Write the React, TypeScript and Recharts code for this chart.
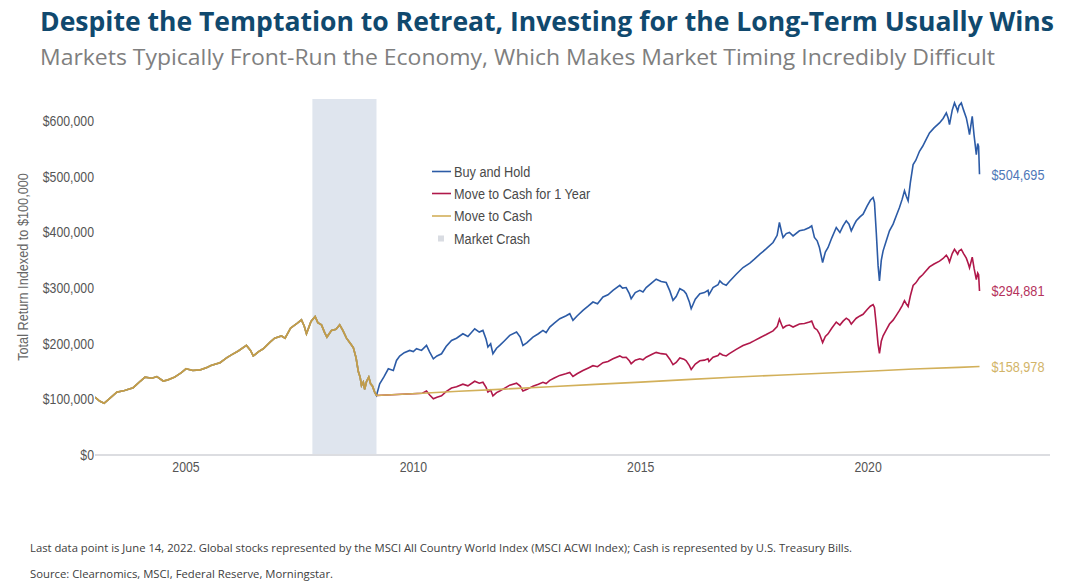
import { LineChart, Line, XAxis, YAxis, ReferenceArea, LabelList } from 'recharts';

// [year, total return value]
const preCrash: [number, number][] = [
  [2003.0, 104000], [2003.1, 97000], [2003.2, 93000], [2003.3, 100000], [2003.48, 113000],
  [2003.65, 116000], [2003.84, 121000], [2004.0, 133000], [2004.1, 140000], [2004.25, 138000],
  [2004.36, 141000], [2004.5, 133000], [2004.6, 135000], [2004.75, 140000], [2004.9, 148000],
  [2005.0, 155000], [2005.15, 152000], [2005.31, 153000], [2005.45, 157000], [2005.55, 161000],
  [2005.75, 166000], [2005.9, 175000], [2006.0, 180000], [2006.15, 187000], [2006.33, 197000],
  [2006.42, 188000], [2006.48, 178000], [2006.6, 186000], [2006.7, 191000], [2006.85, 203000],
  [2006.95, 210000], [2007.1, 214000], [2007.18, 210000], [2007.3, 228000], [2007.45, 237000],
  [2007.54, 243000], [2007.6, 232000], [2007.65, 218000], [2007.75, 240000], [2007.84, 249000],
  [2007.9, 238000], [2007.98, 234000], [2008.05, 220000], [2008.1, 212000], [2008.2, 224000],
  [2008.3, 226000], [2008.38, 234000], [2008.45, 224000], [2008.53, 210000], [2008.62, 200000],
  [2008.68, 193000], [2008.74, 175000], [2008.79, 150000], [2008.83, 140000], [2008.86, 125000],
  [2008.9, 131000], [2008.93, 118000], [2008.97, 132000], [2009.02, 140000], [2009.06, 128000],
  [2009.1, 124000], [2009.15, 113000], [2009.19, 107000],
];

const buyAndHoldRecovery: [number, number][] = [
  [2009.26, 128000], [2009.35, 140000], [2009.45, 155000], [2009.56, 152000], [2009.63, 170000],
  [2009.7, 178000], [2009.8, 184000], [2009.92, 188000], [2010.0, 186000], [2010.07, 191000],
  [2010.18, 188000], [2010.29, 197000], [2010.36, 185000], [2010.44, 173000], [2010.52, 178000],
  [2010.62, 182000], [2010.72, 195000], [2010.84, 206000], [2010.95, 210000], [2011.09, 218000],
  [2011.2, 213000], [2011.35, 227000], [2011.45, 221000], [2011.53, 224000], [2011.6, 208000],
  [2011.64, 194000], [2011.7, 200000], [2011.75, 182000], [2011.83, 192000], [2011.9, 197000],
  [2012.0, 205000], [2012.12, 215000], [2012.27, 221000], [2012.35, 212000], [2012.41, 197000],
  [2012.5, 202000], [2012.63, 212000], [2012.75, 218000], [2012.85, 224000], [2012.92, 220000],
  [2013.0, 230000], [2013.1, 237000], [2013.22, 245000], [2013.35, 250000], [2013.44, 254000],
  [2013.51, 242000], [2013.6, 250000], [2013.73, 260000], [2013.85, 268000], [2013.95, 275000],
  [2014.05, 272000], [2014.17, 284000], [2014.28, 288000], [2014.39, 296000], [2014.54, 305000],
  [2014.6, 300000], [2014.68, 301000], [2014.75, 290000], [2014.79, 281000], [2014.88, 292000],
  [2014.98, 296000], [2015.05, 293000], [2015.12, 301000], [2015.25, 310000], [2015.34, 316000],
  [2015.45, 312000], [2015.56, 310000], [2015.64, 295000], [2015.71, 278000], [2015.78, 285000],
  [2015.86, 299000], [2015.95, 295000], [2016.0, 290000], [2016.07, 275000], [2016.11, 263000],
  [2016.2, 280000], [2016.3, 290000], [2016.4, 292000], [2016.48, 296000], [2016.5, 288000],
  [2016.59, 301000], [2016.7, 306000], [2016.74, 313000], [2016.8, 308000], [2016.88, 305000],
  [2016.95, 312000], [2017.1, 325000], [2017.25, 337000], [2017.4, 345000], [2017.5, 352000],
  [2017.62, 361000], [2017.75, 370000], [2017.91, 382000], [2018.0, 395000], [2018.05, 418000],
  [2018.1, 400000], [2018.13, 391000], [2018.2, 398000], [2018.27, 400000], [2018.35, 394000],
  [2018.49, 403000], [2018.6, 405000], [2018.71, 409000], [2018.76, 412000], [2018.82, 391000],
  [2018.88, 385000], [2018.93, 373000], [2019.0, 346000], [2019.06, 365000], [2019.12, 373000],
  [2019.2, 390000], [2019.3, 409000], [2019.38, 400000], [2019.45, 412000], [2019.52, 421000],
  [2019.58, 415000], [2019.63, 403000], [2019.7, 415000], [2019.74, 421000], [2019.82, 428000],
  [2019.89, 433000], [2019.98, 448000], [2020.05, 458000], [2020.11, 463000], [2020.14, 454000],
  [2020.18, 400000], [2020.22, 340000], [2020.25, 313000], [2020.29, 350000], [2020.33, 367000],
  [2020.4, 385000], [2020.47, 403000], [2020.55, 415000], [2020.62, 430000], [2020.69, 445000],
  [2020.75, 460000], [2020.8, 475000], [2020.84, 465000], [2020.88, 457000], [2020.93, 490000],
  [2020.99, 522000], [2021.05, 530000], [2021.13, 546000], [2021.2, 555000], [2021.28, 568000],
  [2021.35, 579000], [2021.45, 588000], [2021.57, 597000], [2021.65, 605000], [2021.72, 615000],
  [2021.76, 606000], [2021.79, 594000], [2021.85, 620000], [2021.9, 633000], [2021.94, 625000],
  [2021.97, 618000], [2022.0, 628000], [2022.05, 633000], [2022.1, 620000], [2022.16, 606000],
  [2022.2, 590000], [2022.23, 576000], [2022.27, 598000], [2022.29, 609000], [2022.33, 575000],
  [2022.38, 540000], [2022.41, 560000], [2022.43, 555000], [2022.45, 504695],
];

const cashOneYearRecovery: [number, number][] = [
  [2010.2, 111000], [2010.29, 115000], [2010.36, 108000], [2010.44, 101000], [2010.52, 104000],
  [2010.62, 106300], [2010.72, 113900], [2010.84, 120300], [2010.95, 122600], [2011.09, 127300],
  [2011.2, 124400], [2011.35, 132600], [2011.45, 129100], [2011.53, 130800], [2011.6, 121500],
  [2011.64, 113300], [2011.7, 116800], [2011.75, 106300], [2011.83, 112100], [2011.9, 115000],
  [2012.0, 119700], [2012.12, 125600], [2012.27, 129100], [2012.35, 123800], [2012.41, 115000],
  [2012.5, 118000], [2012.63, 123800], [2012.75, 127300], [2012.85, 130800], [2012.92, 128500],
  [2013.0, 134300], [2013.1, 138400], [2013.22, 143100], [2013.35, 146000], [2013.44, 148300],
  [2013.51, 141300], [2013.6, 146000], [2013.73, 151800], [2013.85, 156500], [2013.95, 160600],
  [2014.05, 158800], [2014.17, 165900], [2014.28, 168200], [2014.39, 172900], [2014.54, 178100],
  [2014.6, 175200], [2014.68, 175800], [2014.75, 169400], [2014.79, 164100], [2014.88, 170500],
  [2014.98, 172900], [2015.05, 171100], [2015.12, 175800], [2015.25, 181000], [2015.34, 184500],
  [2015.45, 182200], [2015.56, 181000], [2015.64, 172300], [2015.71, 162400], [2015.78, 166400],
  [2015.86, 174600], [2015.95, 172300], [2016.0, 169400], [2016.07, 160600], [2016.11, 153600],
  [2016.2, 163500], [2016.3, 169400], [2016.4, 170500], [2016.48, 172900], [2016.5, 168200],
  [2016.59, 175800], [2016.7, 178700], [2016.74, 182800], [2016.8, 179900], [2016.88, 178100],
  [2016.95, 182200], [2017.1, 189800], [2017.25, 196800], [2017.4, 201500], [2017.5, 205600],
  [2017.62, 210800], [2017.75, 216100], [2017.91, 223100], [2018.0, 230700], [2018.05, 244100],
  [2018.1, 233600], [2018.13, 228300], [2018.2, 232400], [2018.27, 233600], [2018.35, 230100],
  [2018.49, 235400], [2018.6, 236500], [2018.71, 238900], [2018.76, 240600], [2018.82, 228300],
  [2018.88, 224800], [2018.93, 217800], [2019.0, 202100], [2019.06, 213200], [2019.12, 217800],
  [2019.2, 227800], [2019.3, 238900], [2019.38, 233600], [2019.45, 240600], [2019.52, 245900],
  [2019.58, 242400], [2019.63, 235400], [2019.7, 242400], [2019.74, 245900], [2019.82, 250000],
  [2019.89, 252900], [2019.98, 261600], [2020.05, 267500], [2020.11, 270400], [2020.14, 265100],
  [2020.18, 233600], [2020.22, 198600], [2020.25, 182800], [2020.29, 204400], [2020.33, 214300],
  [2020.4, 224800], [2020.47, 235400], [2020.55, 242400], [2020.62, 251100], [2020.69, 259900],
  [2020.75, 268600], [2020.8, 277400], [2020.84, 271600], [2020.88, 266900], [2020.93, 286200],
  [2020.99, 304800], [2021.05, 309500], [2021.13, 318900], [2021.2, 324100], [2021.28, 331700],
  [2021.35, 338100], [2021.45, 343400], [2021.57, 348600], [2021.65, 353300], [2021.72, 359200],
  [2021.76, 353900], [2021.79, 346900], [2021.85, 362100], [2021.9, 369700], [2021.94, 365000],
  [2021.97, 360900], [2022.0, 366800], [2022.05, 369700], [2022.1, 362100], [2022.16, 353900],
  [2022.2, 344600], [2022.23, 336400], [2022.27, 349200], [2022.29, 355700], [2022.33, 335800],
  [2022.38, 315400], [2022.41, 327000], [2022.43, 324100], [2022.45, 294881],
];

const cashAfterCrash: [number, number][] = [
  [2009.19, 107000], [2010.2, 111000], [2011.0, 114500], [2012.0, 118500], [2013.0, 122800],
  [2014.0, 127000], [2015.0, 131000], [2016.0, 135500], [2017.0, 139800], [2018.0, 143500],
  [2019.0, 147000], [2020.0, 150500], [2021.0, 154500], [2022.0, 157500], [2022.45, 158978],
];

const crashPeriod = [2007.78, 2009.19];
const yearTicks = [2005, 2010, 2015, 2020];
const valueTicks = [0, 100000, 200000, 300000, 400000, 500000, 600000];

// Liberation Sans squeezed horizontally ~ the narrow face used in the original
const FONT = "'Liberation Sans', Arial, sans-serif";
const NARROW = 0.82;
const BLUE = '#2c5ba6';
const RED = '#b0184a';
const GOLD = '#d2b05a';
const SHARED = '#c29c4a'; // all three strategies overlap before the bottom

const toRows = (pts: [number, number][]) => pts.map(([year, value]) => ({ year, value }));

const buyAndHoldData = toRows([...preCrash, ...buyAndHoldRecovery]);
const cashOneYearData = toRows([...cashAfterCrash.slice(0, 2), ...cashOneYearRecovery.slice(1)]);
const cashData = toRows([...preCrash, ...cashAfterCrash.slice(1)]);
const sharedData = toRows(preCrash);

const money = (v: number) => `$${v.toLocaleString('en-US')}`;

function NarrowText({ x, y, anchor = 'start', size = 15, fill = '#555', rotate = 0, dy, baseline, children }: any) {
  return (
    <g transform={`translate(${x},${y}) rotate(${rotate}) scale(${NARROW},1)`}>
      <text x={0} y={0} dy={dy} textAnchor={anchor} dominantBaseline={baseline}
        fontFamily={FONT} fontSize={size} fill={fill}>
        {children}
      </text>
    </g>
  );
}

const YTick = ({ x, y, payload }: any) => (
  <NarrowText x={x} y={y} anchor="end" baseline="central">{money(payload.value)}</NarrowText>
);

const XTick = ({ x, y, payload }: any) => (
  <NarrowText x={x} y={y} anchor="middle" dy="0.71em">{payload.value}</NarrowText>
);

function endLabel(color: string, count: number) {
  return (props: any) => {
    if (props.index !== count - 1) return null;
    return (
      <NarrowText x={props.x + 12} y={props.y} baseline="central" size={15.5} fill={color}>
        {money(props.value)}
      </NarrowText>
    );
  };
}

const legendItems = [
  { label: 'Buy and Hold', color: BLUE, y: 171.5 },
  { label: 'Move to Cash for 1 Year', color: RED, y: 193.5 },
  { label: 'Move to Cash', color: GOLD, y: 216 },
  { label: 'Market Crash', color: '#d9dce2', y: 238.5, square: true },
];

export default function App() {
  return (
    <div style={{ position: 'absolute', left: 0, top: 0, width: 1072, height: 587, background: '#fff', overflow: 'hidden' }}>
      <div style={{ position: 'absolute', left: 0, top: 0 }}>
        <LineChart width={1072} height={587} margin={{ top: 99, right: 22, bottom: 102, left: 25 }}>
          <ReferenceArea x1={crashPeriod[0]} x2={crashPeriod[1]} y1={0} y2={640000}
            fill="#dfe5ee" fillOpacity={1} stroke="none" />
          <XAxis dataKey="year" type="number" domain={[2003, 2024]} ticks={yearTicks}
            allowDataOverflow height={30} tickLine={false} tickSize={0} tickMargin={6}
            axisLine={{ stroke: '#dcdde1', strokeWidth: 2 }} tick={<XTick />} />
          <YAxis type="number" domain={[0, 640000]} ticks={valueTicks} width={70}
            axisLine={false} tickLine={false} tickSize={0} tickMargin={1} tick={<YTick />} />
          <Line data={buyAndHoldData} dataKey="value" stroke={BLUE} strokeWidth={1.6}
            dot={false} activeDot={false} isAnimationActive={false}>
            <LabelList dataKey="value" content={endLabel('#4f77b8', buyAndHoldData.length)} />
          </Line>
          <Line data={cashOneYearData} dataKey="value" stroke={RED} strokeWidth={1.6}
            dot={false} activeDot={false} isAnimationActive={false}>
            <LabelList dataKey="value" content={endLabel('#b5325c', cashOneYearData.length)} />
          </Line>
          <Line data={cashData} dataKey="value" stroke={GOLD} strokeWidth={1.6}
            dot={false} activeDot={false} isAnimationActive={false}>
            <LabelList dataKey="value" content={endLabel('#d2b468', cashData.length)} />
          </Line>
          <Line data={sharedData} dataKey="value" stroke={SHARED} strokeWidth={1.7}
            dot={false} activeDot={false} isAnimationActive={false} />
        </LineChart>
      </div>

      <svg width={1072} height={587} style={{ position: 'absolute', left: 0, top: 0, pointerEvents: 'none' }}>
        <text x={40} y={31} fontFamily="'Open Sans', sans-serif" fontWeight={700} fontSize={26}
          fill="#10496e" textLength={1014} lengthAdjust="spacingAndGlyphs">
          Despite the Temptation to Retreat, Investing for the Long-Term Usually Wins
        </text>
        <text x={40} y={65} fontFamily="'Open Sans', sans-serif" fontSize={22}
          fill="#7f7f7f" textLength={955} lengthAdjust="spacingAndGlyphs">
          Markets Typically Front-Run the Economy, Which Makes Market Timing Incredibly Difficult
        </text>

        <NarrowText x={23} y={267} rotate={-90} anchor="middle" baseline="central" size={15.5} fill="#666">
          Total Return Indexed to $100,000
        </NarrowText>

        {legendItems.map((item) => (
          <g key={item.label}>
            {item.square ? (
              <rect x={438} y={item.y - 3} width={6} height={6} fill={item.color} />
            ) : (
              <line x1={432} x2={451} y1={item.y} y2={item.y} stroke={item.color} strokeWidth={1.6} />
            )}
            <NarrowText x={454} y={item.y} baseline="central" size={15.5} fill="#4a4a4a">
              {item.label}
            </NarrowText>
          </g>
        ))}

        <text x={30} y={552} fontFamily="'Open Sans', sans-serif" fontSize={11}
          fill="#404040" textLength={822} lengthAdjust="spacingAndGlyphs">
          Last data point is June 14, 2022. Global stocks represented by the MSCI All Country World Index (MSCI ACWI Index); Cash is represented by U.S. Treasury Bills.
        </text>
        <text x={30} y={578} fontFamily="'Open Sans', sans-serif" fontSize={11}
          fill="#404040" textLength={303} lengthAdjust="spacingAndGlyphs">
          Source: Clearnomics, MSCI, Federal Reserve, Morningstar.
        </text>
      </svg>
    </div>
  );
}
